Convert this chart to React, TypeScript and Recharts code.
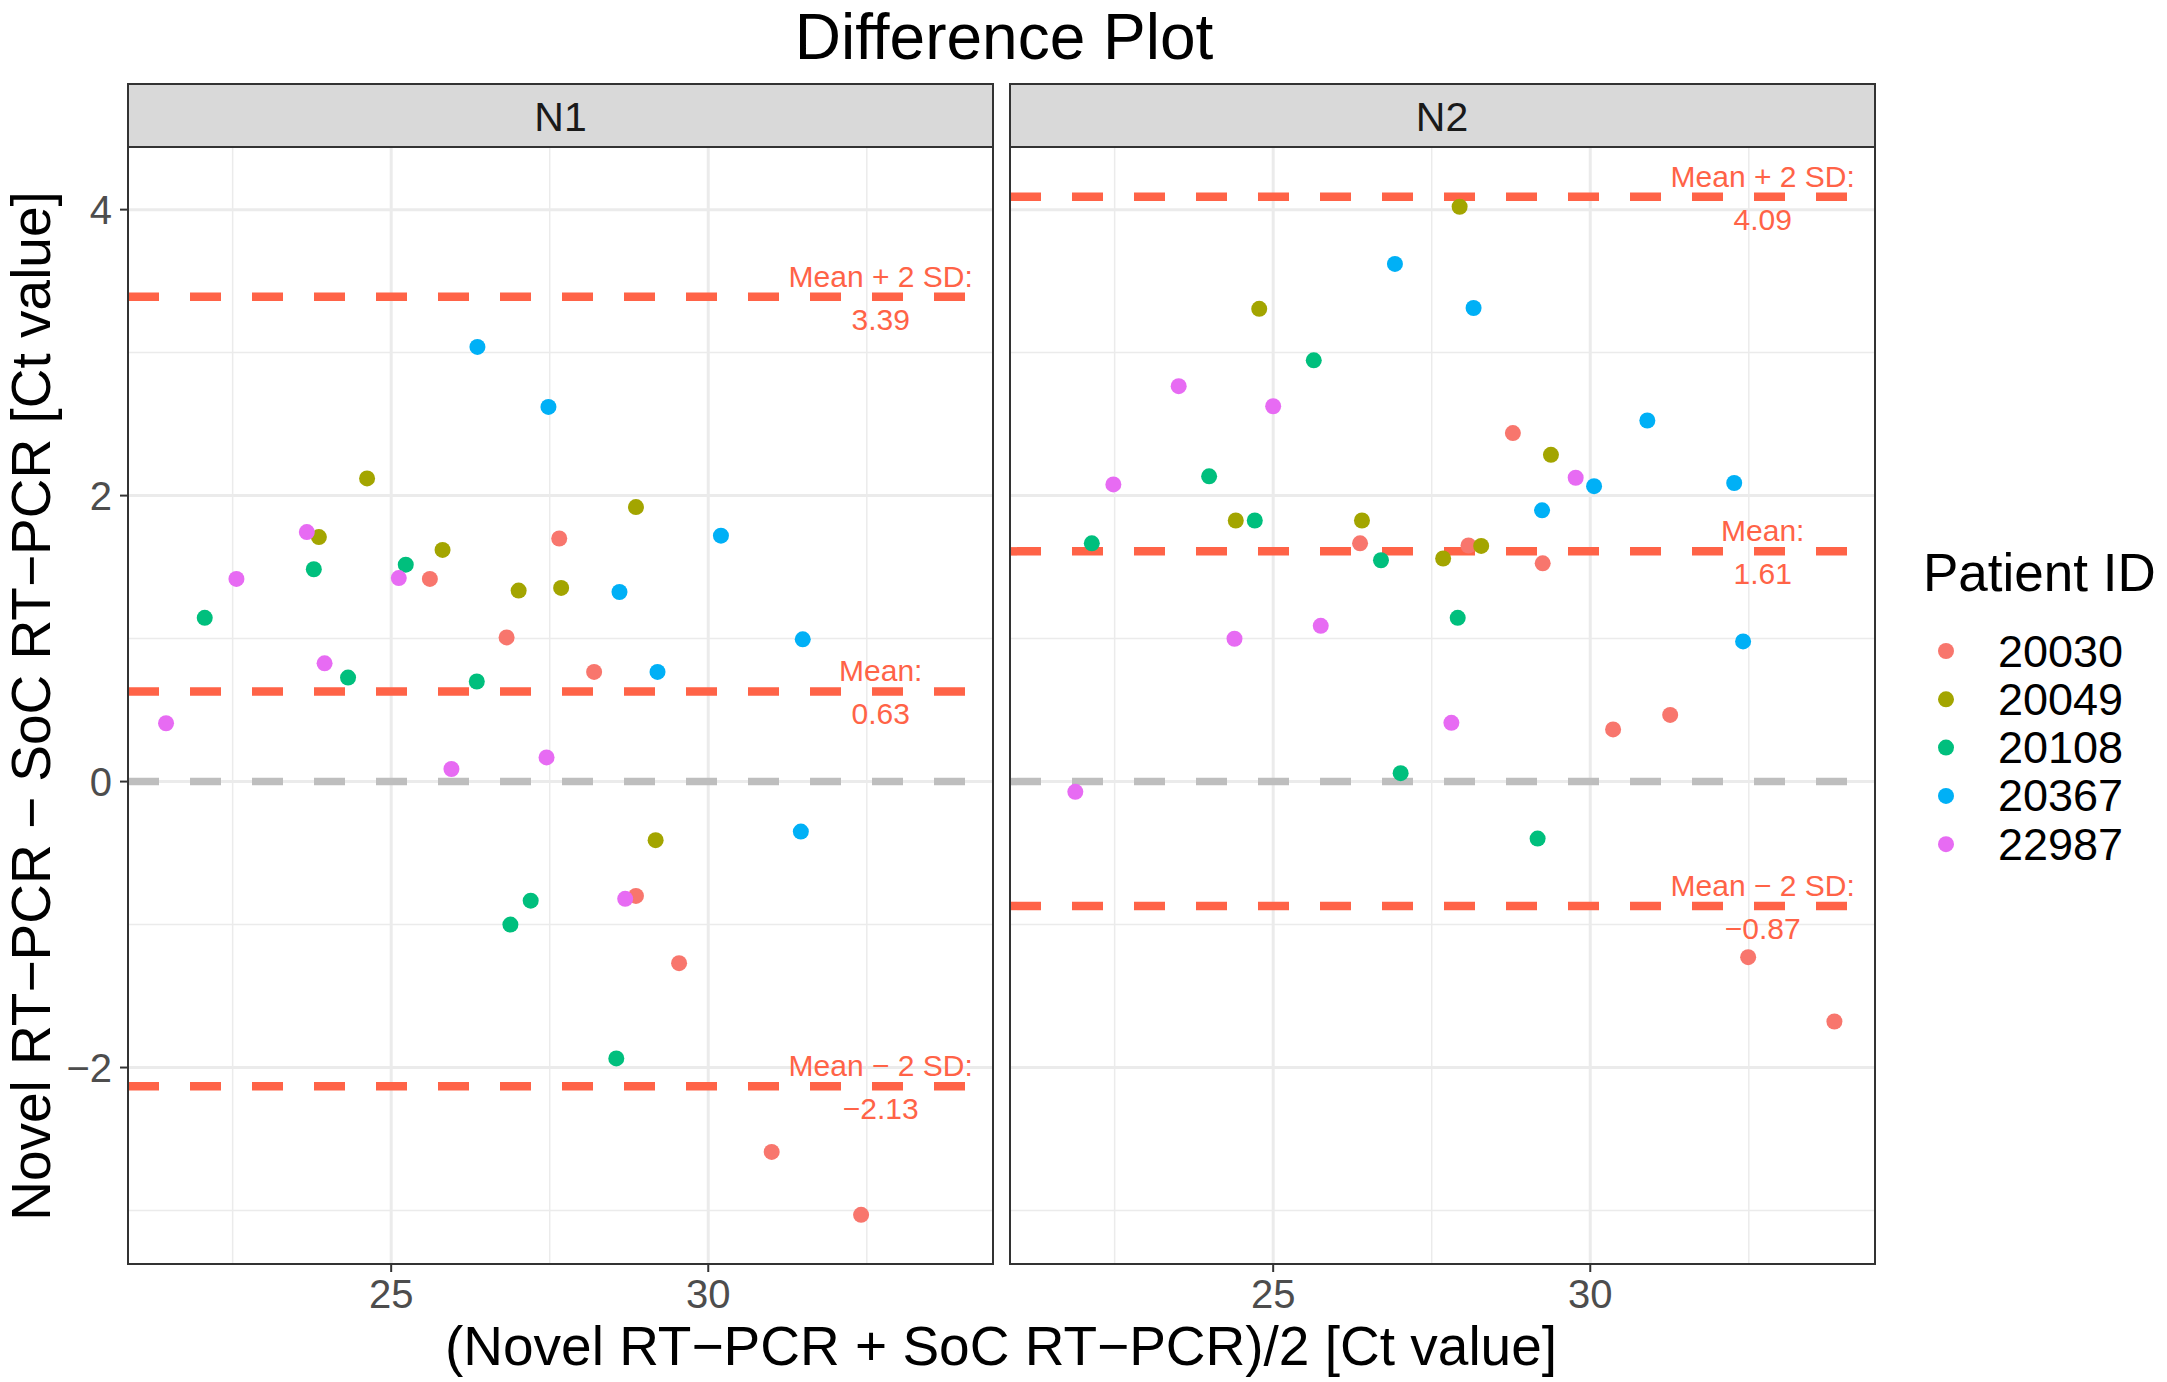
import React from 'react';
import { ScatterChart, Scatter, XAxis, YAxis, ReferenceLine, ReferenceDot } from 'recharts';

// patients and ggplot hue colours
const patients = ['20030', '20049', '20108', '20367', '22987'];
const patientColors = ['#F8766D', '#A3A500', '#00BF7D', '#00B0F6', '#E76BF3'];

// N1: mean of the two Ct values, difference, patient
const n1Avg = [
  27.65, 25.61, 26.82, 28.2, 28.86, 29.54, 31.0, 32.41,
  24.62, 28.86, 23.86, 25.81, 27.01, 27.68, 29.17,
  23.78, 25.23, 22.06, 24.32, 26.35, 27.2, 26.88, 28.55,
  26.36, 27.48, 30.2, 28.6, 31.49, 29.2, 31.46,
  23.67, 22.56, 25.12, 23.95, 21.45, 25.95, 27.45, 28.69,
];
const n1Diff = [
  1.7, 1.417, 1.008, 0.767, -0.8, -1.27, -2.59, -3.03,
  2.12, 1.92, 1.71, 1.62, 1.336, 1.354, -0.41,
  1.485, 1.517, 1.145, 0.727, 0.7, -0.833, -1.0, -1.936,
  3.04, 2.62, 1.72, 1.326, 0.995, 0.767, -0.35,
  1.745, 1.417, 1.423, 0.827, 0.408, 0.088, 0.169, -0.82,
];
const n1Pid = [
  '20030', '20030', '20030', '20030', '20030', '20030', '20030', '20030',
  '20049', '20049', '20049', '20049', '20049', '20049', '20049',
  '20108', '20108', '20108', '20108', '20108', '20108', '20108', '20108',
  '20367', '20367', '20367', '20367', '20367', '20367', '20367',
  '22987', '22987', '22987', '22987', '22987', '22987', '22987', '22987',
];

// N2
const n2Avg = [
  28.78, 26.37, 28.08, 29.25, 31.26, 30.36, 32.49, 33.85,
  27.94, 24.78, 29.38, 24.41, 26.4, 28.28, 27.68,
  25.64, 23.99, 24.71, 22.14, 26.7, 27.91, 27.01, 29.17,
  26.92, 28.16, 30.9, 30.06, 32.27, 29.24, 32.41,
  23.51, 25.0, 29.77, 22.48, 24.39, 25.75, 27.81, 21.88,
];
const n2Diff = [
  2.437, 1.666, 1.651, 1.526, 0.466, 0.365, -1.228, -1.678,
  4.02, 3.306, 2.285, 1.826, 1.826, 1.648, 1.56,
  2.946, 2.135, 1.826, 1.666, 1.548, 1.145, 0.059, -0.399,
  3.62, 3.312, 2.525, 2.066, 2.088, 1.897, 0.98,
  2.765, 2.625, 2.125, 2.078, 0.999, 1.089, 0.411, -0.072,
];
const n2Pid = n1Pid;

// mean + 2 SD, mean, mean - 2 SD
const limitNames = ['Mean + 2 SD:', 'Mean:', 'Mean \u2212 2 SD:'];
const n1Limits = [3.39, 0.63, -2.13];
const n2Limits = [4.09, 1.61, -0.87];

const xTicks = [25, 30];
const xMinor = [22.5, 27.5, 32.5];
const yTicks = [-2, 0, 2, 4];
const yMinor = [-3, -1, 1, 3];
const xDomain = [20.85, 34.49];
const yDomain = [-3.374, 4.438];
const annotX = 32.72;

const TOMATO = '#FF6347';
const FONT = '"Liberation Sans", Arial, Helvetica, sans-serif';

const fmt = (v: number) => (v < 0 ? `\u2212${Math.abs(v).toFixed(2)}` : v.toFixed(2));
const fmtTick = (v: number) => (v < 0 ? `\u2212${Math.abs(v)}` : `${v}`);

function byPatient(avg: number[], diff: number[], pid: string[]) {
  return patients.map(p =>
    avg.map((x, i) => ({ x, y: diff[i], pid: pid[i] })).filter(d => d.pid === p)
  );
}

const dot = (color: string) => (props: any) => (
  <circle cx={props.cx} cy={props.cy} r={8} fill={color} />
);

function Panel({ avg, diff, pid, limits, showY, width }: {
  avg: number[]; diff: number[]; pid: string[]; limits: number[]; showY: boolean; width: number;
}) {
  const groups = byPatient(avg, diff, pid);
  return (
    <ScatterChart width={width} height={1235} margin={{ top: 0, right: 0, bottom: 0, left: 0 }}>
      <XAxis
        type="number" dataKey="x" domain={xDomain} ticks={xTicks} allowDataOverflow
        height={118} axisLine={false} tickSize={8} tickMargin={8}
        tickLine={{ stroke: '#333333', strokeWidth: 2 }}
        tick={{ fontSize: 40, fill: '#4D4D4D' }}
      />
      <YAxis
        type="number" dataKey="y" domain={yDomain} ticks={yTicks} allowDataOverflow
        hide={!showY} width={128} axisLine={false} tickSize={8} tickMargin={8}
        tickLine={{ stroke: '#333333', strokeWidth: 2 }}
        tick={{ fontSize: 40, fill: '#4D4D4D' }} tickFormatter={fmtTick}
      />
      {xMinor.map(v => <ReferenceLine key={`xm${v}`} x={v} stroke="#EBEBEB" strokeWidth={1.5} />)}
      {yMinor.map(v => <ReferenceLine key={`ym${v}`} y={v} stroke="#EBEBEB" strokeWidth={1.5} />)}
      {xTicks.map(v => <ReferenceLine key={`xM${v}`} x={v} stroke="#EBEBEB" strokeWidth={3} />)}
      {yTicks.map(v => <ReferenceLine key={`yM${v}`} y={v} stroke="#EBEBEB" strokeWidth={3} />)}
      <ReferenceLine y={0} stroke="#BEBEBE" strokeWidth={7.5} strokeDasharray="31 31" />
      {limits.map(v => (
        <ReferenceLine key={`l${v}`} y={v} stroke={TOMATO} strokeWidth={8.5} strokeDasharray="31 31" />
      ))}
      {limits.map((v, i) => (
        <ReferenceDot
          key={`a${v}`} x={annotX} y={v} r={0}
          shape={(p: any) => (
            <g>
              <text x={p.cx} y={p.cy - 10} textAnchor="middle" fontSize={30} fill={TOMATO}>{limitNames[i]}</text>
              <text x={p.cx} y={p.cy + 33} textAnchor="middle" fontSize={30} fill={TOMATO}>{fmt(v)}</text>
            </g>
          )}
        />
      ))}
      {groups.map((g, i) => (
        <Scatter key={patients[i]} data={g} fill={patientColors[i]} shape={dot(patientColors[i])} isAnimationActive={false} />
      ))}
    </ScatterChart>
  );
}

const boxStyle = (left: number, top: number, width: number, height: number, bg?: string): React.CSSProperties => ({
  position: 'absolute', left, top, width, height, boxSizing: 'border-box',
  border: '2px solid #333333', background: bg ?? 'transparent', pointerEvents: 'none',
});

export default function App() {
  return (
    <div style={{ position: 'absolute', left: 0, top: 0, width: 2167, height: 1382, background: '#fff', fontFamily: FONT, overflow: 'hidden' }}>
      <div style={boxStyle(127, 83, 867, 65, '#D9D9D9')} />
      <div style={boxStyle(1009, 83, 867, 65, '#D9D9D9')} />
      <div style={{ position: 'absolute', left: 0, top: 147 }}>
        <Panel avg={n1Avg} diff={n1Diff} pid={n1Pid} limits={n1Limits} showY width={993} />
      </div>
      <div style={{ position: 'absolute', left: 1010, top: 147 }}>
        <Panel avg={n2Avg} diff={n2Diff} pid={n2Pid} limits={n2Limits} showY={false} width={865} />
      </div>
      <div style={boxStyle(127, 146, 867, 1119)} />
      <div style={boxStyle(1009, 146, 867, 1119)} />
      <svg width={2167} height={1382} style={{ position: 'absolute', left: 0, top: 0, pointerEvents: 'none', fontFamily: FONT }}>
        <text x={1004} y={59} textAnchor="middle" fontSize={64} fill="#000">Difference Plot</text>
        <text x={560.5} y={131} textAnchor="middle" fontSize={41} fill="#1A1A1A">N1</text>
        <text x={1442} y={131} textAnchor="middle" fontSize={41} fill="#1A1A1A">N2</text>
        <text x={1001} y={1365} textAnchor="middle" fontSize={55} fill="#000">
          (Novel RT{'\u2212'}PCR + SoC RT{'\u2212'}PCR)/2 [Ct value]
        </text>
        <text transform="translate(50,706) rotate(-90)" textAnchor="middle" fontSize={55} fill="#000">
          Novel RT{'\u2212'}PCR {'\u2212'} SoC RT{'\u2212'}PCR [Ct value]
        </text>
        <text x={1923} y={591} fontSize={53} fill="#000">Patient ID</text>
        {patients.map((p, i) => (
          <g key={p}>
            <circle cx={1946} cy={651 + i * 48.3} r={8} fill={patientColors[i]} />
            <text x={1998} y={666.5 + i * 48.3} fontSize={45} fill="#000">{p}</text>
          </g>
        ))}
      </svg>
    </div>
  );
}
